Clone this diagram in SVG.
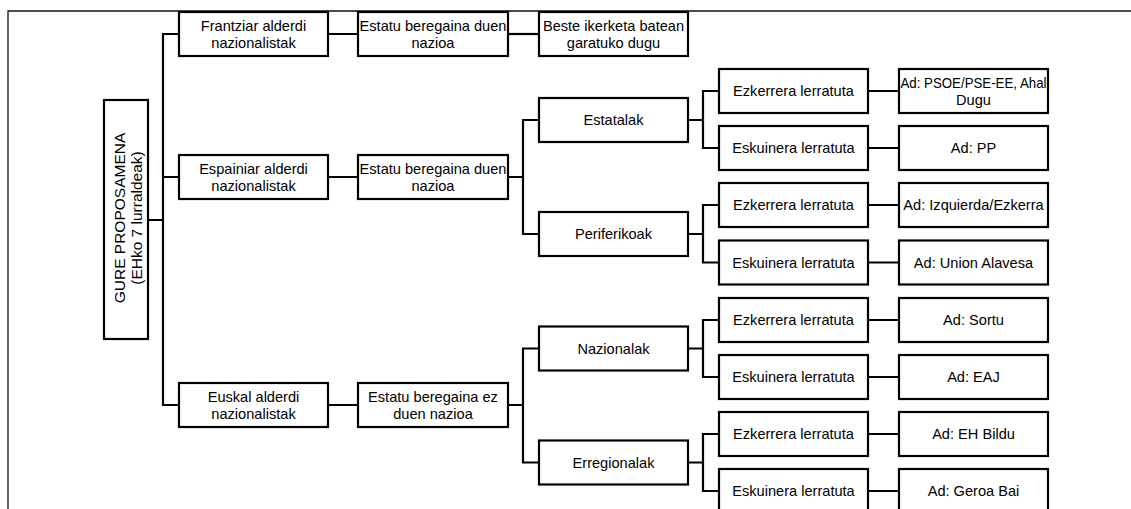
<svg xmlns="http://www.w3.org/2000/svg" width="1131" height="509" viewBox="0 0 1131 509">
<style>
.b{fill:#fff;stroke:#000;stroke-width:2.2}
.t{font-family:"Liberation Sans",Arial,sans-serif;font-size:14.6px;fill:#000;text-anchor:middle}
.r{font-size:15.5px}
.c{fill:none;stroke:#000;stroke-width:2.2;stroke-linejoin:miter}
.f{fill:none;stroke:#111;stroke-width:1.3}
</style>
<rect width="1131" height="509" fill="#fff"/>
<path class="f" d="M8 509 V11 H1131"/>
<g id="connectors">
<path class="c" d="M148 220 H163 M179 34 H163 V405 H179 M163 177 H179"/>
<path class="c" d="M328 34 H358 M328 177 H358 M328 405 H358"/>
<path class="c" d="M508 34 H539"/>
<path class="c" d="M508 177 H523 M539 120 H523 V234 H539"/>
<path class="c" d="M508 405 H523 M539 348.5 H523 V462.5 H539"/>
<path class="c" d="M688 120 H703 M719 91 H703 V148 H719"/>
<path class="c" d="M688 234 H703 M719 205 H703 V262.5 H719"/>
<path class="c" d="M688 348.5 H703 M719 320 H703 V377 H719"/>
<path class="c" d="M688 462.5 H703 M719 434 H703 V491 H719"/>
<path class="c" d="M868 91 H899 M868 148 H899 M868 205 H899 M868 262.5 H899 M868 320 H899 M868 377 H899 M868 434 H899 M868 491 H899"/>
</g>
<g id="root"><rect class="b" x="104" y="100" width="44" height="239"/>
<text class="t r" transform="translate(124.5 218) rotate(-90)">GURE PROPOSAMENA</text>
<text class="t r" transform="translate(141.5 218) rotate(-90)">(EHko 7 lurraldeak)</text></g>
<g id="frantziar"><rect class="b" x="179" y="12" width="149" height="44"/>
<text class="t" x="253.5" y="30.5">Frantziar alderdi</text><text class="t" x="253.5" y="47.5">nazionalistak</text></g>
<g id="espainiar"><rect class="b" x="179" y="155" width="149" height="44"/>
<text class="t" x="253.5" y="173.5">Espainiar alderdi</text><text class="t" x="253.5" y="190.5">nazionalistak</text></g>
<g id="euskal"><rect class="b" x="179" y="383" width="149" height="44"/>
<text class="t" x="253.5" y="401.5">Euskal alderdi</text><text class="t" x="253.5" y="418.5">nazionalistak</text></g>
<g id="estatu1"><rect class="b" x="358" y="12" width="150" height="44"/>
<text class="t" x="433" y="30.5">Estatu beregaina duen</text><text class="t" x="433" y="47.5">nazioa</text></g>
<g id="estatu2"><rect class="b" x="358" y="155" width="150" height="44"/>
<text class="t" x="433" y="173.5">Estatu beregaina duen</text><text class="t" x="433" y="190.5">nazioa</text></g>
<g id="estatu3"><rect class="b" x="358" y="383" width="150" height="44"/>
<text class="t" x="433" y="401.5">Estatu beregaina ez</text><text class="t" x="433" y="418.5">duen nazioa</text></g>
<g id="beste"><rect class="b" x="539" y="12" width="149" height="44"/>
<text class="t" x="613.5" y="30.5">Beste ikerketa batean</text><text class="t" x="613.5" y="47.5">garatuko dugu</text></g>
<g id="estatalak"><rect class="b" x="539" y="98" width="149" height="44"/><text class="t" x="613.5" y="125">Estatalak</text></g>
<g id="periferikoak"><rect class="b" x="539" y="212" width="149" height="44"/><text class="t" x="613.5" y="239">Periferikoak</text></g>
<g id="nazionalak"><rect class="b" x="539" y="326.5" width="149" height="44"/><text class="t" x="613.5" y="353.5">Nazionalak</text></g>
<g id="erregionalak"><rect class="b" x="539" y="440.5" width="149" height="44"/><text class="t" x="613.5" y="467.5">Erregionalak</text></g>
<g id="ezk1"><rect class="b" x="719" y="69" width="149" height="44"/><text class="t" x="793.5" y="96">Ezkerrera lerratuta</text></g>
<g id="esk1"><rect class="b" x="719" y="126" width="149" height="44"/><text class="t" x="793.5" y="153">Eskuinera lerratuta</text></g>
<g id="ezk2"><rect class="b" x="719" y="183" width="149" height="44"/><text class="t" x="793.5" y="210">Ezkerrera lerratuta</text></g>
<g id="esk2"><rect class="b" x="719" y="240.5" width="149" height="44"/><text class="t" x="793.5" y="267.5">Eskuinera lerratuta</text></g>
<g id="ezk3"><rect class="b" x="719" y="298" width="149" height="44"/><text class="t" x="793.5" y="325">Ezkerrera lerratuta</text></g>
<g id="esk3"><rect class="b" x="719" y="355" width="149" height="44"/><text class="t" x="793.5" y="382">Eskuinera lerratuta</text></g>
<g id="ezk4"><rect class="b" x="719" y="412" width="149" height="44"/><text class="t" x="793.5" y="439">Ezkerrera lerratuta</text></g>
<g id="esk4"><rect class="b" x="719" y="469" width="149" height="44"/><text class="t" x="793.5" y="496">Eskuinera lerratuta</text></g>
<g id="ad1"><rect class="b" x="899" y="69" width="149" height="44"/>
<text class="t" x="973.5" y="87.5" textLength="146" lengthAdjust="spacingAndGlyphs">Ad: PSOE/PSE-EE, Ahal</text><text class="t" x="973.5" y="104.5">Dugu</text></g>
<g id="ad2"><rect class="b" x="899" y="126" width="149" height="44"/><text class="t" x="973.5" y="153">Ad: PP</text></g>
<g id="ad3"><rect class="b" x="899" y="183" width="149" height="44"/><text class="t" x="973.5" y="210">Ad: Izquierda/Ezkerra</text></g>
<g id="ad4"><rect class="b" x="899" y="240.5" width="149" height="44"/><text class="t" x="973.5" y="267.5">Ad: Union Alavesa</text></g>
<g id="ad5"><rect class="b" x="899" y="298" width="149" height="44"/><text class="t" x="973.5" y="325">Ad: Sortu</text></g>
<g id="ad6"><rect class="b" x="899" y="355" width="149" height="44"/><text class="t" x="973.5" y="382">Ad: EAJ</text></g>
<g id="ad7"><rect class="b" x="899" y="412" width="149" height="44"/><text class="t" x="973.5" y="439">Ad: EH Bildu</text></g>
<g id="ad8"><rect class="b" x="899" y="469" width="149" height="44"/><text class="t" x="973.5" y="496">Ad: Geroa Bai</text></g>
</svg>
